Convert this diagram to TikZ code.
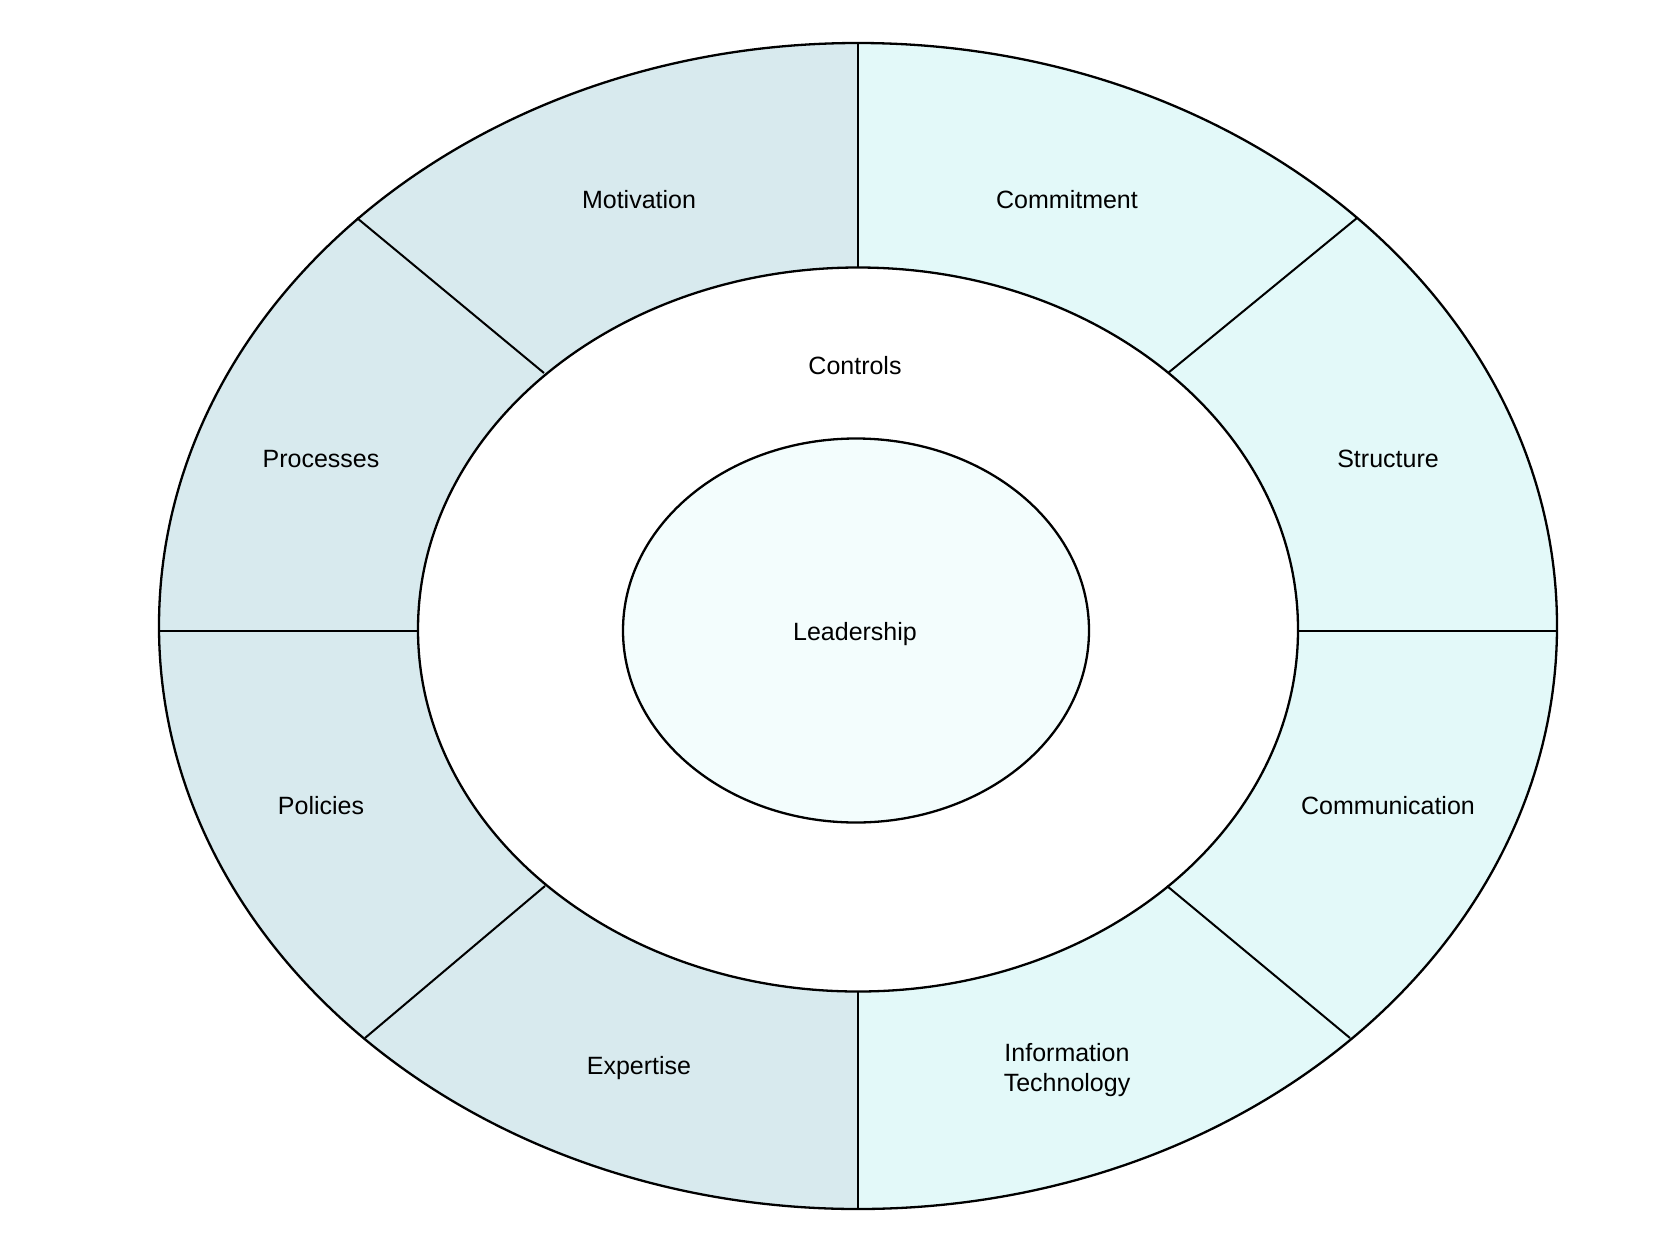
\documentclass[tikz,border=0pt]{standalone}
\usepackage{fontspec}
\setmainfont{Liberation Sans}
\definecolor{leftfill}{HTML}{D8EAEE}
\definecolor{rightfill}{HTML}{E3F9F9}
\definecolor{centerfill}{HTML}{F3FDFD}
\begin{document}
\begin{tikzpicture}[x=1pt,y=-1pt,
  ring/.style={line width=2.3pt,draw=black},
  divider/.style={line width=2pt,draw=black},
  lbl/.style={font=\fontsize{25}{30}\selectfont,align=center,inner sep=0pt}]
\useasboundingbox (0,0) rectangle (1667,1250);
% fills
\fill[leftfill] (858,626) ellipse [x radius=699, y radius=583];
\begin{scope}
  \clip (858,0) rectangle (1667,1250);
  \fill[rightfill] (858,626) ellipse [x radius=699, y radius=583];
\end{scope}
\fill[white] (858,629.5) ellipse [x radius=440, y radius=362];
% outlines
\draw[ring] (858,626) ellipse [x radius=699, y radius=583];
\draw[ring] (858,629.5) ellipse [x radius=440, y radius=362];
\draw[ring,fill=centerfill] (856,630.5) ellipse [x radius=233, y radius=192];
% divider endpoints
\coordinate (nTo) at (858,43);    \coordinate (nTm) at (858,267.5);
\coordinate (nBo) at (858,1209);  \coordinate (nBm) at (858,991.5);
\coordinate (nLo) at (159,630.5); \coordinate (nLm) at (418,630.5);
\coordinate (nRo) at (1557,630.5);\coordinate (nRm) at (1298,630.5);
\coordinate (nNWo) at (357,218);  \coordinate (nNWm) at (544,373);
\coordinate (nNEo) at (1357,218); \coordinate (nNEm) at (1168,373);
\coordinate (nSWo) at (365,1038); \coordinate (nSWm) at (545,886);
\coordinate (nSEo) at (1350,1038);\coordinate (nSEm) at (1167,886);
\draw[divider] (nTo) -- (nTm);
\draw[divider] (nBm) -- (nBo);
\draw[divider] (nLo) -- (nLm);
\draw[divider] (nRm) -- (nRo);
\draw[divider] (nNWo) -- (nNWm);
\draw[divider] (nNEo) -- (nNEm);
\draw[divider] (nSWo) -- (nSWm);
\draw[divider] (nSEo) -- (nSEm);
% labels
\node[lbl] (motivation) at (639,200) {Motivation};
\node[lbl] (commitment) at (1067,200) {Commitment};
\node[lbl] (controls) at (855,366) {Controls};
\node[lbl] (processes) at (321,459) {Processes};
\node[lbl] (structure) at (1388,459) {Structure};
\node[lbl] (leadership) at (855,634) {Leadership};
\node[lbl] (policies) at (321,806) {Policies};
\node[lbl] (communication) at (1388,806) {Communication};
\node[lbl] (expertise) at (639,1068) {Expertise};
\node[lbl] (infotech) at (1067,1070) {Information\\Technology};
\end{tikzpicture}
\end{document}
